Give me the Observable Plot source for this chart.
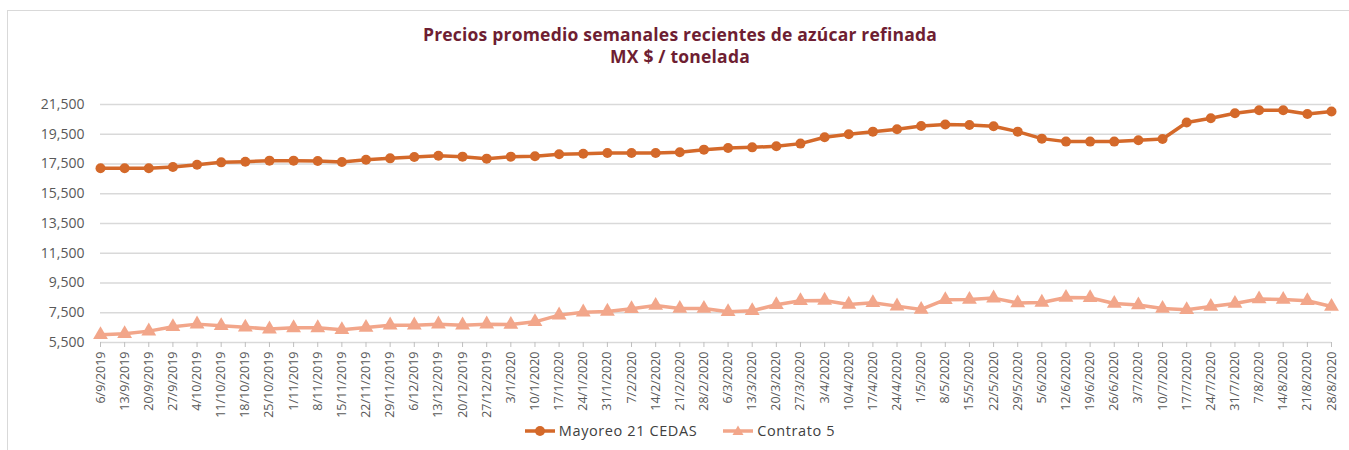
<!DOCTYPE html>
<html>
<head>
<meta charset="utf-8">
<script src="https://cdn.jsdelivr.net/npm/d3@7"></script>
<script src="https://cdn.jsdelivr.net/npm/@observablehq/plot@0.6"></script>
<style>
  html, body { margin: 0; padding: 0; background: #fff; }
  body { width: 1349px; height: 450px; position: relative; overflow: hidden; font-family: "Open Sans", sans-serif; }
  #frame { position: absolute; left: 7px; top: 10px; width: 1360px; height: 460px; border: 1px solid #d9d9d9; box-sizing: border-box; }
  #title { position: absolute; left: 0; width: 1360px; top: 23px; text-align: center; color: #6e1e32; font-weight: 700; font-size: 17.5px; letter-spacing: 0.2px; line-height: 22px; }
  #chart { position: absolute; left: 0; top: 80px; }
  #legend { position: absolute; top: 421px; left: 0; width: 1360px; display: flex; justify-content: center; gap: 26px; font-size: 14.5px; letter-spacing: 0.6px; color: #404040; }
  .item { display: flex; align-items: center; gap: 4px; }
</style>
</head>
<body>
<div id="frame"></div>
<div id="title">Precios promedio semanales recientes de azúcar refinada<br>MX $ / tonelada</div>
<div id="chart"></div>
<div id="legend"></div>
<script>
const weeks = ["6/9/2019","13/9/2019","20/9/2019","27/9/2019","4/10/2019","11/10/2019","18/10/2019","25/10/2019","1/11/2019","8/11/2019","15/11/2019","22/11/2019","29/11/2019","6/12/2019","13/12/2019","20/12/2019","27/12/2019","3/1/2020","10/1/2020","17/1/2020","24/1/2020","31/1/2020","7/2/2020","14/2/2020","21/2/2020","28/2/2020","6/3/2020","13/3/2020","20/3/2020","27/3/2020","3/4/2020","10/4/2020","17/4/2020","24/4/2020","1/5/2020","8/5/2020","15/5/2020","22/5/2020","29/5/2020","5/6/2020","12/6/2020","19/6/2020","26/6/2020","3/7/2020","10/7/2020","17/7/2020","24/7/2020","31/7/2020","7/8/2020","14/8/2020","21/8/2020","28/8/2020"];

const mayoreo = [17210,17210,17210,17300,17455,17610,17655,17725,17725,17700,17635,17790,17880,17970,18060,17995,17860,17995,18015,18150,18195,18240,18240,18240,18285,18465,18575,18620,18690,18870,19295,19495,19675,19835,20060,20150,20125,20035,19675,19205,19005,19005,19005,19095,19185,20285,20575,20910,21110,21110,20865,21025];

const contrato = [6015,6085,6265,6555,6735,6620,6530,6400,6485,6485,6355,6510,6665,6665,6735,6665,6735,6710,6890,7340,7540,7590,7765,7990,7790,7790,7565,7630,8035,8305,8330,8060,8170,7945,7720,8375,8395,8485,8150,8195,8530,8505,8125,8015,7790,7700,7925,8125,8420,8395,8305,7925];

const seriesNames = ["Mayoreo 21 CEDAS", "Contrato 5"];
const seriesColors = ["#d4692a", "#f2a68a"];
const yTicks = d3.range(5500, 21501, 2000);

const rows = [];
weeks.forEach((w, i) => {
  rows.push({week: w, value: mayoreo[i], serie: seriesNames[0]});
  rows.push({week: w, value: contrato[i], serie: seriesNames[1]});
});

const chart = Plot.plot({
  width: 1349,
  height: 340,
  marginLeft: 100,
  marginRight: 18,
  marginTop: 24,
  marginBottom: 78,
  style: {fontFamily: "'Open Sans', sans-serif", background: "transparent"},
  x: {type: "point", domain: weeks, padding: 0, round: false},
  y: {domain: [5500, 21500]},
  color: {domain: seriesNames, range: seriesColors},
  marks: [
    Plot.ruleY(yTicks, {stroke: "#d9d9d9", strokeWidth: 1.5, strokeOpacity: 1}),
    Plot.axisY({ticks: yTicks, tickFormat: d3.format(","), tickSize: 0, tickPadding: 16, fontSize: 14, color: "#595959", label: null}),
    Plot.axisX({tickRotate: -90, tickSize: 5, tickPadding: 4, fontSize: 12.5, stroke: "#bfbfbf", color: "#595959", label: null}),
    Plot.line(rows, {x: "week", y: "value", z: "serie", stroke: "serie", strokeWidth: 3.5, curve: "linear"}),
    Plot.dot(rows.filter(d => d.serie === seriesNames[0]), {x: "week", y: "value", fill: "serie", r: 5, symbol: "circle"}),
    Plot.dot(rows.filter(d => d.serie === seriesNames[1]), {x: "week", y: "value", fill: "serie", r: 5.5, symbol: "triangle"})
  ]
});
document.getElementById("chart").appendChild(chart);

const legend = document.getElementById("legend");
seriesNames.forEach((name, i) => {
  const item = document.createElement("div");
  item.className = "item";
  const sym = i === 0
    ? `<circle cx="15" cy="8" r="5" fill="${seriesColors[i]}"/>`
    : `<path d="M15,2.5 L20.5,12 L9.5,12 Z" fill="${seriesColors[i]}"/>`;
  item.innerHTML = `<svg width="30" height="16"><line x1="0" x2="30" y1="8" y2="8" stroke="${seriesColors[i]}" stroke-width="3.5"/>${sym}</svg><span>${name}</span>`;
  legend.appendChild(item);
});
</script>
</body>
</html>
